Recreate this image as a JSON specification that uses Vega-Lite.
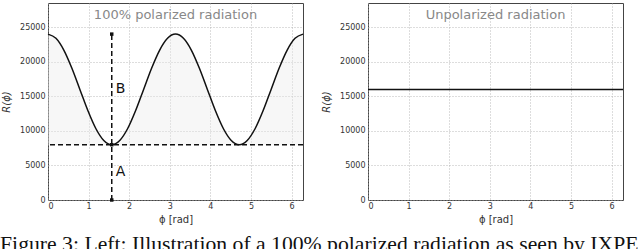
{
  "$schema": "https://vega.github.io/schema/vega-lite/v6.json",
  "background": "white",
  "padding": {"left": 0, "top": 2, "right": 0, "bottom": 0},
  "datasets": {
    "curve": [
      {"phi": 0.0, "R": 24000}, {"phi": 0.1963, "R": 23391}, {"phi": 0.3927, "R": 21657}, {"phi": 0.589, "R": 19061},
      {"phi": 0.7854, "R": 16000}, {"phi": 0.9817, "R": 12939}, {"phi": 1.1781, "R": 10343}, {"phi": 1.3744, "R": 8609},
      {"phi": 1.5708, "R": 8000}, {"phi": 1.7671, "R": 8609}, {"phi": 1.9635, "R": 10343}, {"phi": 2.1598, "R": 12939},
      {"phi": 2.3562, "R": 16000}, {"phi": 2.5525, "R": 19061}, {"phi": 2.7489, "R": 21657}, {"phi": 2.9452, "R": 23391},
      {"phi": 3.1416, "R": 24000}, {"phi": 3.3379, "R": 23391}, {"phi": 3.5343, "R": 21657}, {"phi": 3.7306, "R": 19061},
      {"phi": 3.927, "R": 16000}, {"phi": 4.1233, "R": 12939}, {"phi": 4.3197, "R": 10343}, {"phi": 4.516, "R": 8609},
      {"phi": 4.7124, "R": 8000}, {"phi": 4.9087, "R": 8609}, {"phi": 5.1051, "R": 10343}, {"phi": 5.3014, "R": 12939},
      {"phi": 5.4978, "R": 16000}, {"phi": 5.6941, "R": 19061}, {"phi": 5.8905, "R": 21657}, {"phi": 6.0868, "R": 23391},
      {"phi": 6.2832, "R": 24000}
    ],
    "markers": [
      {"phi": 1.5708, "R": 24000}, {"phi": 1.5708, "R": 8000}, {"phi": 1.5708, "R": 0}
    ],
    "labels": [
      {"phi": 1.5708, "R": 16000, "label": "B"}, {"phi": 1.5708, "R": 4000, "label": "A"}
    ],
    "flat": [
      {"phi": 0.0, "R": 16000}, {"phi": 6.2832, "R": 16000}
    ]
  },
  "config": {
    "font": "DejaVu Sans",
    "view": {"stroke": "#444", "strokeWidth": 1},
    "axis": {
      "domain": false,
      "ticks": false,
      "grid": true,
      "gridColor": "#aaa",
      "gridDash": [1, 2],
      "gridWidth": 0.8,
      "labelFont": "DejaVu Sans",
      "labelFontSize": 8,
      "labelColor": "#333",
      "labelOverlap": false,
      "titleFont": "DejaVu Sans",
      "titleFontSize": 10,
      "titleFontWeight": "normal",
      "titleColor": "#333"
    }
  },
  "title": {
    "text": "Figure 3: Left: Illustration of a 100% polarized radiation as seen by IXPE",
    "orient": "bottom",
    "anchor": "start",
    "font": "Liberation Serif",
    "fontSize": 21.7,
    "fontWeight": "normal",
    "color": "#111",
    "offset": 9,
    "dx": -1,
    "frame": "bounds"
  },
  "spacing": 14,
  "hconcat": [
    {
      "width": 255,
      "height": 197,
      "encoding": {
        "x": {"field": "phi", "type": "quantitative", "scale": {"domain": [0, 6.2832], "nice": false}, "axis": {"values": [0, 1, 2, 3, 4, 5, 6], "title": "ϕ [rad]", "labelPadding": 2}},
        "y": {"field": "R", "type": "quantitative", "scale": {"domain": [0, 28500], "nice": false}, "axis": {"values": [0, 5000, 10000, 15000, 20000, 25000], "tickCount": 6, "format": "d", "title": "R(ϕ)", "titleFontStyle": "italic", "labelPadding": 3, "titlePadding": 8}}
      },
      "layer": [
        {
          "data": {"name": "curve"},
          "mark": {"type": "area", "fill": "#ececec", "opacity": 0.4, "interpolate": "monotone"},
          "encoding": {"y2": {"datum": 8000}}
        },
        {
          "data": {"name": "curve"},
          "mark": {"type": "line", "color": "#111", "strokeWidth": 1.5, "interpolate": "monotone"}
        },
        {
          "data": {"values": [{"R": 8000}]},
          "mark": {"type": "rule", "color": "#111", "strokeWidth": 1.5, "strokeDash": [5, 3]},
          "encoding": {"x": null}
        },
        {
          "data": {"values": [{"phi": 1.5708, "R": 0, "R2": 24000}]},
          "mark": {"type": "rule", "color": "#111", "strokeWidth": 1.5, "strokeDash": [5, 3]},
          "encoding": {"y2": {"field": "R2"}}
        },
        {
          "data": {"name": "markers"},
          "mark": {"type": "point", "shape": "square", "filled": true, "color": "#111", "size": 12, "opacity": 1}
        },
        {
          "data": {"name": "labels"},
          "mark": {"type": "text", "align": "left", "baseline": "middle", "dx": 4, "fontSize": 14, "color": "#111", "font": "DejaVu Sans"},
          "encoding": {"text": {"field": "label"}}
        },
        {
          "data": {"values": [{"phi": 3.1416, "R": 26700, "t": "100% polarized radiation"}]},
          "mark": {"type": "text", "align": "center", "baseline": "middle", "fontSize": 13, "color": "#888", "font": "DejaVu Sans"},
          "encoding": {"text": {"field": "t"}}
        }
      ]
    },
    {
      "width": 255,
      "height": 197,
      "encoding": {
        "x": {"field": "phi", "type": "quantitative", "scale": {"domain": [0, 6.2832], "nice": false}, "axis": {"values": [0, 1, 2, 3, 4, 5, 6], "title": "ϕ [rad]", "labelPadding": 2}},
        "y": {"field": "R", "type": "quantitative", "scale": {"domain": [0, 28500], "nice": false}, "axis": {"values": [0, 5000, 10000, 15000, 20000, 25000], "tickCount": 6, "format": "d", "title": "R(ϕ)", "titleFontStyle": "italic", "labelPadding": 3, "titlePadding": 8}}
      },
      "layer": [
        {
          "data": {"name": "flat"},
          "mark": {"type": "line", "color": "#111", "strokeWidth": 1.5}
        },
        {
          "data": {"values": [{"phi": 3.1416, "R": 26700, "t": "Unpolarized radiation"}]},
          "mark": {"type": "text", "align": "center", "baseline": "middle", "fontSize": 13, "color": "#888", "font": "DejaVu Sans"},
          "encoding": {"text": {"field": "t"}}
        }
      ]
    }
  ]
}
